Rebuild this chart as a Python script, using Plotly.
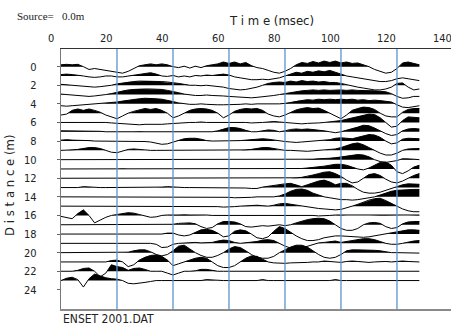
import plotly.graph_objects as go

# ---------------- data ----------------
SAMPLE_MS = 2
times = [i * SAMPLE_MS for i in range(65)]          # 0 .. 128 ms
x_tick_labels = [0, 20, 40, 60, 80, 100, 120, 140]
y_tick_labels = [0, 2, 4, 6, 8, 10, 12, 14, 16, 18, 20, 22, 24]
grid_times = [20, 40, 60, 80, 100, 120]
distances = list(range(24))                          # trace offsets (m)

# amplitudes (in metres of trace spacing, positive = up), one list per trace
trace_00 = [0.2,0.25,0.2,0.25,0.0,-0.3,-0.2,-0.3,-0.4,-0.5,
            -0.6,-0.7,-0.5,-0.2,0.1,0.2,0.3,0.2,0.3,0.2,
            0.0,-0.1,0.05,-0.15,0.05,-0.1,0.1,0.2,0.3,0.5,
            0.35,0.5,0.3,0.45,0.1,-0.1,-0.2,-0.4,-0.6,-0.7,
            -0.5,-0.2,0.2,0.45,0.35,0.55,0.4,0.6,0.45,0.6,
            0.4,0.5,0.35,0.4,0.2,0.0,-0.3,-0.5,-0.7,-0.6,
            -0.2,0.4,0.5,0.35,0.2]
trace_01 = [0.15,0.2,0.15,0.1,0.0,-0.1,-0.15,-0.1,0.0,0.0,
            -0.1,-0.1,0.0,0.1,0.2,0.3,0.35,0.2,0.0,-0.05,
            0.05,-0.1,0.0,-0.1,0.05,0.0,0.1,0.05,0.15,0.2,
            0.1,-0.1,-0.2,-0.3,-0.4,-0.4,-0.35,-0.4,-0.3,-0.2,
            0.0,0.2,0.4,0.3,0.5,0.4,0.55,0.45,0.6,0.4,
            0.2,0.0,-0.1,-0.2,-0.3,-0.4,-0.5,-0.6,-0.6,-0.5,
            -0.3,-0.2,-0.3,-0.4,-0.5]
trace_02 = [0.1,0.05,0.0,-0.1,-0.15,-0.2,-0.2,-0.15,-0.1,0.0,
            0.15,0.25,0.35,0.4,0.45,0.45,0.45,0.4,0.4,0.35,
            0.3,0.2,0.1,0.0,0.0,-0.05,0.0,-0.05,-0.1,-0.2,
            -0.35,-0.45,-0.5,-0.45,-0.35,-0.2,0.0,0.2,0.3,0.35,
            0.3,0.45,0.35,0.5,0.4,0.45,0.35,0.4,0.3,0.3,
            0.2,0.05,-0.1,-0.2,-0.3,-0.4,-0.5,-0.5,-0.4,-0.2,
            0.2,0.25,-0.2,-0.5,-0.4]
trace_03 = [0.05,0.0,-0.1,-0.15,-0.2,-0.2,-0.15,-0.1,0.0,0.1,
            0.25,0.4,0.5,0.55,0.6,0.6,0.6,0.6,0.55,0.45,
            0.35,0.2,0.05,-0.05,-0.1,-0.1,-0.05,-0.1,-0.1,-0.15,
            -0.2,-0.25,-0.3,-0.3,-0.35,-0.3,-0.25,-0.2,-0.1,0.0,
            0.1,0.25,0.35,0.4,0.45,0.5,0.45,0.5,0.45,0.5,
            0.5,0.45,0.5,0.45,0.45,0.4,0.4,0.35,0.3,0.1,
            -0.2,-0.4,-0.35,-0.2,-0.2]
trace_04 = [-0.2,-0.25,-0.2,-0.15,-0.1,-0.1,-0.05,0.0,0.05,0.1,
            0.2,0.3,0.4,0.5,0.55,0.6,0.6,0.55,0.5,0.4,
            0.25,0.1,0.0,-0.05,-0.05,0.0,-0.05,-0.1,-0.1,-0.1,
            -0.1,-0.05,-0.05,0.0,-0.05,0.0,0.0,-0.05,0.0,0.0,
            0.05,0.15,0.3,0.35,0.45,0.4,0.5,0.45,0.5,0.45,
            0.5,0.45,0.5,0.4,0.45,0.35,0.4,0.35,0.3,0.2,
            -0.1,-0.35,-0.4,-0.3,-0.2]
trace_05 = [-0.2,-0.1,0.3,0.45,0.3,0.45,0.3,0.1,-0.2,-0.4,
            -0.6,-0.3,0.0,0.2,0.35,0.5,0.4,0.5,0.3,0.0,
            -0.5,-0.3,0.0,0.3,0.45,0.5,0.45,0.3,0.0,-0.5,
            -0.2,0.2,0.4,0.5,0.45,0.5,0.3,-0.1,-0.3,-0.4,
            -0.2,0.1,0.35,0.5,0.6,0.5,0.55,0.3,0.0,-0.3,
            -0.6,-0.2,0.3,0.5,0.65,0.6,0.4,0.0,-0.3,-0.4,
            -0.4,0.1,0.4,0.5,0.5]
trace_06 = [0.0,0.0,0.05,0.0,0.0,0.05,0.0,0.0,0.0,-0.05,
            -0.1,-0.15,-0.2,-0.2,-0.25,-0.2,-0.2,-0.25,-0.2,-0.15,
            -0.1,-0.05,0.0,0.0,0.0,0.05,0.0,0.0,0.0,0.0,
            0.0,0.05,0.05,0.0,-0.05,-0.05,0.0,0.05,0.1,0.05,
            0.0,-0.1,-0.15,-0.15,-0.1,-0.1,-0.05,0.0,0.05,0.1,
            0.2,0.35,0.5,0.65,0.8,0.9,0.85,0.5,0.0,-0.5,
            -0.4,0.2,0.6,0.55,0.5]
trace_07 = [0.1,0.1,0.1,0.1,0.1,0.05,0.05,0.05,0.0,0.0,
            0.0,0.0,0.0,0.0,0.05,0.0,0.0,0.0,0.0,0.0,
            0.0,0.0,0.0,0.0,0.0,0.0,0.0,0.0,0.1,0.3,
            0.45,0.45,0.35,0.15,0.0,0.0,0.1,0.2,0.15,0.0,
            0.1,0.25,0.3,0.25,0.3,0.25,0.2,0.1,0.0,-0.1,
            0.0,0.15,0.35,0.5,0.7,0.65,0.4,0.1,-0.2,-0.4,
            -0.3,0.1,0.3,0.35,0.3]
trace_08 = [0.1,0.15,0.1,0.1,0.1,0.05,0.0,0.0,0.0,0.0,
            0.0,0.0,0.0,0.0,0.0,-0.05,-0.1,-0.25,-0.35,-0.3,
            -0.1,0.1,0.25,0.3,0.3,0.2,0.05,0.0,0.0,0.0,
            0.0,0.0,0.05,0.1,0.15,0.2,0.25,0.2,0.1,0.0,
            -0.05,-0.1,-0.15,-0.1,-0.05,0.0,0.0,0.05,0.15,0.3,
            0.35,0.3,0.25,0.4,0.55,0.7,0.65,0.4,0.0,-0.3,
            -0.2,0.2,0.3,0.3,0.25]
trace_09 = [0.0,0.0,0.05,0.1,0.2,0.3,0.3,0.2,0.0,-0.2,
            -0.25,-0.1,0.1,0.15,0.1,0.0,0.0,0.0,0.0,0.0,
            0.0,0.0,0.0,0.0,0.0,0.0,0.0,0.0,0.0,0.0,
            0.0,0.0,0.0,0.05,0.1,0.2,0.3,0.3,0.2,0.05,
            0.0,0.0,-0.05,-0.1,-0.1,-0.05,0.0,0.0,0.05,0.15,
            0.3,0.5,0.7,0.8,0.6,0.3,0.0,-0.3,-0.5,-0.5,
            -0.3,0.0,0.15,0.2,0.2]
trace_10 = [0.0,0.0,0.0,0.0,0.0,0.0,0.0,0.0,0.0,0.0,
            0.0,0.0,0.0,0.0,0.0,0.0,0.0,0.0,0.0,0.0,
            0.0,0.0,0.0,0.0,0.0,0.0,0.0,0.0,0.0,0.0,
            0.0,0.0,0.0,0.0,0.0,0.0,0.0,0.0,0.0,0.0,
            0.0,0.0,0.0,0.0,0.05,0.05,0.1,0.1,0.15,0.2,
            0.3,0.4,0.5,0.55,0.5,0.3,0.0,-0.2,-0.3,-0.2,
            -0.1,0.1,0.1,0.05,0.0]
trace_11 = [0.0,0.0,0.0,0.0,0.0,0.0,0.0,0.0,0.0,0.0,
            0.0,0.05,0.0,0.0,0.0,0.0,0.0,0.0,0.0,0.0,
            0.0,0.0,0.0,0.0,0.0,0.0,0.0,0.0,0.0,0.0,
            0.0,0.0,0.0,0.0,0.0,0.0,0.0,0.0,0.0,0.0,
            0.0,0.0,0.0,0.05,0.1,0.15,0.2,0.3,0.4,0.5,
            0.5,0.4,0.2,0.0,-0.1,0.1,0.4,0.7,0.75,0.4,
            -0.3,-0.5,-0.2,0.2,0.4]
trace_12 = [0.0,0.0,0.0,0.0,0.0,0.0,0.0,0.0,0.0,0.0,
            0.0,0.0,0.0,0.0,0.0,0.0,0.0,0.0,0.0,0.0,
            0.0,0.0,0.0,0.0,0.0,0.0,0.0,0.0,0.0,0.0,
            0.0,0.0,0.0,0.0,0.0,0.0,0.0,0.0,0.0,0.0,
            0.0,0.0,0.05,0.1,0.2,0.35,0.5,0.65,0.7,0.5,
            0.2,-0.2,-0.5,-0.4,0.0,0.4,0.5,0.3,-0.1,-0.4,
            -0.5,-0.3,0.0,0.3,0.5]
trace_13 = [0.0,0.0,0.0,0.0,0.1,0.05,0.0,0.0,0.0,0.0,
            0.0,0.0,0.0,0.0,0.0,0.0,0.0,0.0,0.05,0.1,
            0.05,0.0,0.0,0.0,0.0,0.0,0.0,0.0,0.0,0.0,
            0.0,0.0,0.0,-0.05,-0.1,-0.1,0.05,0.15,0.2,0.3,
            0.4,0.45,0.3,0.1,0.3,0.5,0.7,0.8,0.6,0.3,
            0.45,0.45,0.2,-0.2,-0.5,-0.6,-0.6,-0.5,-0.3,-0.1,
            0.1,0.3,0.4,0.4,0.35]
trace_14 = [0.0,0.0,0.0,0.0,0.0,0.0,0.0,0.0,0.0,0.0,
            0.0,0.0,0.0,0.0,0.0,0.0,0.0,0.0,0.0,0.0,
            0.0,0.0,0.0,0.0,0.0,0.0,0.0,0.0,0.0,0.0,
            -0.05,-0.1,-0.1,-0.1,-0.05,0.0,0.0,0.0,0.0,0.1,
            0.3,0.6,0.8,0.85,0.7,0.4,0.2,0.0,-0.1,-0.2,
            -0.3,-0.3,-0.35,-0.3,-0.2,-0.1,0.0,0.2,0.4,0.6,
            0.7,0.75,0.8,0.8,0.8]
trace_15 = [0.0,0.0,0.0,0.0,0.0,0.0,0.0,0.0,0.0,0.0,
            0.0,0.0,0.0,0.0,0.0,0.0,0.0,0.0,0.0,0.0,
            0.0,0.0,0.0,0.0,0.0,0.0,0.0,0.0,-0.05,-0.1,
            -0.1,-0.05,0.0,0.05,0.1,0.1,0.05,0.0,0.1,0.25,
            0.3,0.2,0.1,0.0,-0.1,-0.2,-0.25,-0.3,-0.35,-0.4,
            -0.35,-0.2,0.0,0.2,0.45,0.65,0.8,0.85,0.6,0.3,
            0.0,-0.3,-0.5,-0.6,-0.6]
trace_16 = [-0.1,-0.2,-0.35,0.2,0.6,0.0,-0.8,-0.5,-0.2,0.0,
            0.1,0.25,0.3,0.25,0.1,-0.1,-0.2,-0.15,0.0,0.05,
            0.05,0.05,0.1,0.05,0.05,0.05,0.05,0.0,0.0,0.05,
            0.05,0.0,0.0,0.05,0.05,0.0,0.0,0.0,0.05,0.05,
            0.05,0.05,0.05,0.0,0.0,0.0,-0.05,-0.05,0.0,0.05,
            0.05,0.0,0.0,0.0,0.0,0.0,0.05,0.05,0.05,0.05,
            0.05,0.0,0.0,0.05,0.05]
trace_17 = [0.0,0.0,0.0,0.0,0.0,0.0,0.0,0.0,0.0,0.0,
            0.0,0.0,0.0,0.0,0.0,0.0,0.0,0.0,0.0,0.0,
            0.05,0.15,0.2,0.2,0.1,-0.2,-0.4,-0.3,0.1,0.35,
            0.35,0.3,0.1,-0.2,-0.25,-0.2,-0.1,-0.15,-0.1,0.0,
            -0.1,0.0,0.2,0.4,0.55,0.65,0.7,0.65,0.4,0.0,
            -0.4,-0.6,-0.6,-0.4,0.0,0.2,0.25,0.15,-0.2,-0.4,
            -0.3,0.1,0.3,0.35,0.35]
trace_18 = [0.0,0.0,0.0,0.0,0.0,0.0,0.0,0.0,0.0,0.0,
            0.0,0.0,0.0,0.0,0.0,0.0,0.0,0.0,0.0,0.1,
            0.1,-0.1,-0.2,-0.1,0.2,0.45,0.5,0.4,0.1,-0.3,
            -0.2,0.3,0.45,0.35,0.0,-0.4,-0.5,-0.3,0.3,0.8,
            0.6,0.2,-0.2,-0.5,-0.7,-0.7,-0.6,-0.4,-0.3,-0.2,
            -0.2,-0.25,-0.3,-0.3,-0.35,-0.3,-0.2,-0.1,0.0,0.1,
            0.2,0.35,0.45,0.45,0.4]
trace_19 = [0.0,0.0,0.0,0.0,0.0,0.0,0.0,0.0,0.0,0.0,
            0.0,0.0,0.0,0.0,0.0,0.0,0.0,-0.1,-0.45,-0.4,
            -0.1,0.0,0.05,0.05,0.1,0.05,0.05,0.1,0.25,0.35,
            0.3,0.1,0.0,0.05,0.1,0.2,0.35,0.4,0.3,0.0,
            -0.3,-0.5,-0.6,-0.5,-0.3,-0.1,0.05,0.1,0.15,0.25,
            0.1,0.2,0.35,0.45,0.5,0.5,0.4,0.2,0.0,-0.1,
            -0.1,0.0,0.15,0.25,0.3]
trace_20 = [0.0,0.0,0.0,0.0,0.0,0.0,0.0,0.0,0.0,0.0,
            0.0,0.0,0.05,0.2,0.3,0.3,0.1,-0.2,-0.35,-0.2,
            0.2,0.7,0.8,0.4,0.0,-0.3,-0.5,-0.5,-0.3,0.0,
            0.4,0.65,0.55,0.2,-0.2,-0.5,-0.6,-0.6,-0.4,0.0,
            0.3,0.6,0.8,0.8,0.6,0.2,-0.2,-0.5,-0.6,-0.5,
            -0.2,0.2,0.3,0.3,0.3,0.3,0.25,0.2,0.1,0.0,
            0.0,0.0,-0.05,-0.05,-0.05]
trace_21 = [0.0,0.0,0.0,0.0,0.0,0.0,0.0,0.0,0.0,0.15,
            0.2,0.0,-0.5,-0.3,0.2,0.5,0.7,0.75,0.6,0.2,
            -0.4,-0.2,0.0,0.2,0.4,0.5,0.4,0.0,-0.4,-0.6,
            -0.6,-0.4,0.0,0.4,0.65,0.6,0.3,0.0,-0.1,-0.15,
            -0.15,-0.1,-0.1,-0.05,-0.05,0.0,0.0,0.1,0.05,-0.05,
            -0.05,0.05,0.1,0.05,0.0,-0.05,0.0,0.05,0.05,0.0,
            0.05,0.1,0.05,0.0,0.0]
trace_22 = [0.0,0.0,0.0,0.1,0.3,0.35,0.0,-0.6,-0.2,0.7,
            0.5,0.4,0.1,0.3,0.35,0.2,0.0,0.0,0.0,-0.2,
            -0.4,-0.2,0.0,0.0,0.05,0.2,0.2,0.1,0.0,0.0,
            0.0,0.0,0.0,0.0,0.0,0.0,0.0,0.0,0.0,0.0,
            0.0,0.0,0.0,0.0,0.0,0.0,0.0,0.0,0.0,0.0,
            0.0,0.0,0.0,0.0,0.0,0.0,0.0,0.0,0.0,0.0,
            0.0,0.0,0.0,0.0,0.0]
trace_23 = [0.0,0.25,0.35,0.1,-0.7,0.2,0.7,0.5,0.3,0.2,
            0.15,0.0,-0.3,-0.35,-0.3,-0.2,-0.1,0.0,0.0,0.0,
            0.0,0.0,0.0,0.0,0.0,0.0,0.1,0.05,0.0,0.0,
            0.0,0.0,0.0,0.0,0.0,0.0,0.1,0.0,0.0,0.0,
            0.0,0.0,0.0,0.0,0.0,0.0,0.0,0.0,0.0,0.1,
            0.0,0.0,0.0,0.0,0.0,0.0,0.0,0.0,0.0,0.0,
            0.0,0.0,0.0,0.0,0.0]

amplitudes = [trace_00, trace_01, trace_02, trace_03, trace_04, trace_05,
              trace_06, trace_07, trace_08, trace_09, trace_10, trace_11,
              trace_12, trace_13, trace_14, trace_15, trace_16, trace_17,
              trace_18, trace_19, trace_20, trace_21, trace_22, trace_23]

# ---------------- styling ----------------
NARROW = "Liberation Sans Narrow, Arial Narrow, DejaVu Sans Condensed, sans-serif"
SERIF = "Liberation Serif, Times New Roman, serif"
X_MAX = 139.3
Y_RANGE = [26.06, -1.9]


def positive_lobes(ts, amps, base):
    xs, ys = [], []
    run = []

    def flush():
        xs.extend([p[0] for p in run] + [None])
        ys.extend([base - p[1] for p in run] + [None])

    for i, a in enumerate(amps):
        if a > 0:
            if not run:
                if i > 0:
                    a0, t0 = amps[i - 1], ts[i - 1]
                    tc = t0 + (ts[i] - t0) * (-a0) / (a - a0)
                else:
                    tc = ts[i]
                run.append((tc, 0.0))
            run.append((ts[i], a))
        elif run:
            a0, t0 = amps[i - 1], ts[i - 1]
            tc = t0 + (ts[i] - t0) * a0 / (a0 - a)
            run.append((tc, 0.0))
            flush()
            run = []
    if run:
        run.append((ts[-1], 0.0))
        flush()
    return xs, ys


fig = go.Figure()
for d, amps in zip(distances, amplitudes):
    fx, fy = positive_lobes(times, amps, d)
    fig.add_trace(go.Scatter(x=fx, y=fy, mode="lines", fill="toself",
                             fillcolor="black", line=dict(width=0, color="black"),
                             hoverinfo="skip", showlegend=False))
    fig.add_trace(go.Scatter(x=times, y=[d - a for a in amps], mode="lines",
                             line=dict(color="black", width=1),
                             hoverinfo="skip", showlegend=False))

for g in grid_times:
    fig.add_shape(type="line", xref="x", yref="paper", x0=g, x1=g, y0=0, y1=1,
                  line=dict(color="#5b93d3", width=1.3), layer="above")

annotations = []
for v in x_tick_labels:
    annotations.append(dict(x=v / X_MAX, xref="paper", y=1, yref="paper",
                            xshift=-10.3, yshift=10.5, xanchor="center",
                            yanchor="middle", text=str(v), showarrow=False,
                            font=dict(family=NARROW, size=11, color="#222")))
annotations += [
    dict(x=0.54, y=1.108, xref="paper", yref="paper", text="T i m e (msec)",
         xanchor="center", yanchor="middle", showarrow=False,
         font=dict(family=NARROW, size=13, color="#222")),
    dict(x=-0.118, y=1.127, xref="paper", yref="paper", xanchor="left",
         yanchor="middle", text="Source=\u00a0\u00a0\u00a00.0m", showarrow=False,
         font=dict(family=SERIF, size=11, color="#222")),
    dict(x=-0.131, y=0.477, xref="paper", yref="paper", textangle=-90,
         xanchor="center", yanchor="middle",
         text="D i s t a n c e (m)", showarrow=False,
         font=dict(family=NARROW, size=13, color="#222")),
    dict(x=0, y=-0.038, xref="paper", yref="paper", xanchor="left",
         yanchor="middle", text="ENSET 2001.DAT", showarrow=False,
         font=dict(family=NARROW, size=12, color="#222")),
]

fig.update_layout(
    width=451, height=329,
    margin=dict(l=61, r=0, t=49, b=20),
    paper_bgcolor="white", plot_bgcolor="white",
    annotations=annotations,
    xaxis=dict(range=[0, X_MAX], side="top", showgrid=False, zeroline=False,
               showticklabels=False, ticks="", showline=True,
               linecolor="#333", linewidth=1),
    xaxis2=dict(range=[0, X_MAX], overlaying="x", side="bottom",
                showgrid=False, zeroline=False, showticklabels=False,
                ticks="", showline=True, linecolor="#8a8a8a", linewidth=2),
    yaxis=dict(range=Y_RANGE, showgrid=False, zeroline=False,
               tickmode="array", tickvals=y_tick_labels,
               ticktext=[str(v) for v in y_tick_labels],
               ticks="outside", ticklen=3, tickcolor="#666",
               ticklabelstandoff=18,
               showline=True, linecolor="#777", linewidth=1.3,
               tickfont=dict(family=NARROW, size=11, color="#222")),
)
# dummy invisible trace so the bottom axis is drawn
fig.add_trace(go.Scatter(x=[], y=[], xaxis="x2", yaxis="y",
                         showlegend=False, hoverinfo="skip"))

fig.write_html("out.html", config={"displayModeBar": False},
               post_script="document.body.style.margin='0';"
                           "document.body.style.overflow='hidden';")
